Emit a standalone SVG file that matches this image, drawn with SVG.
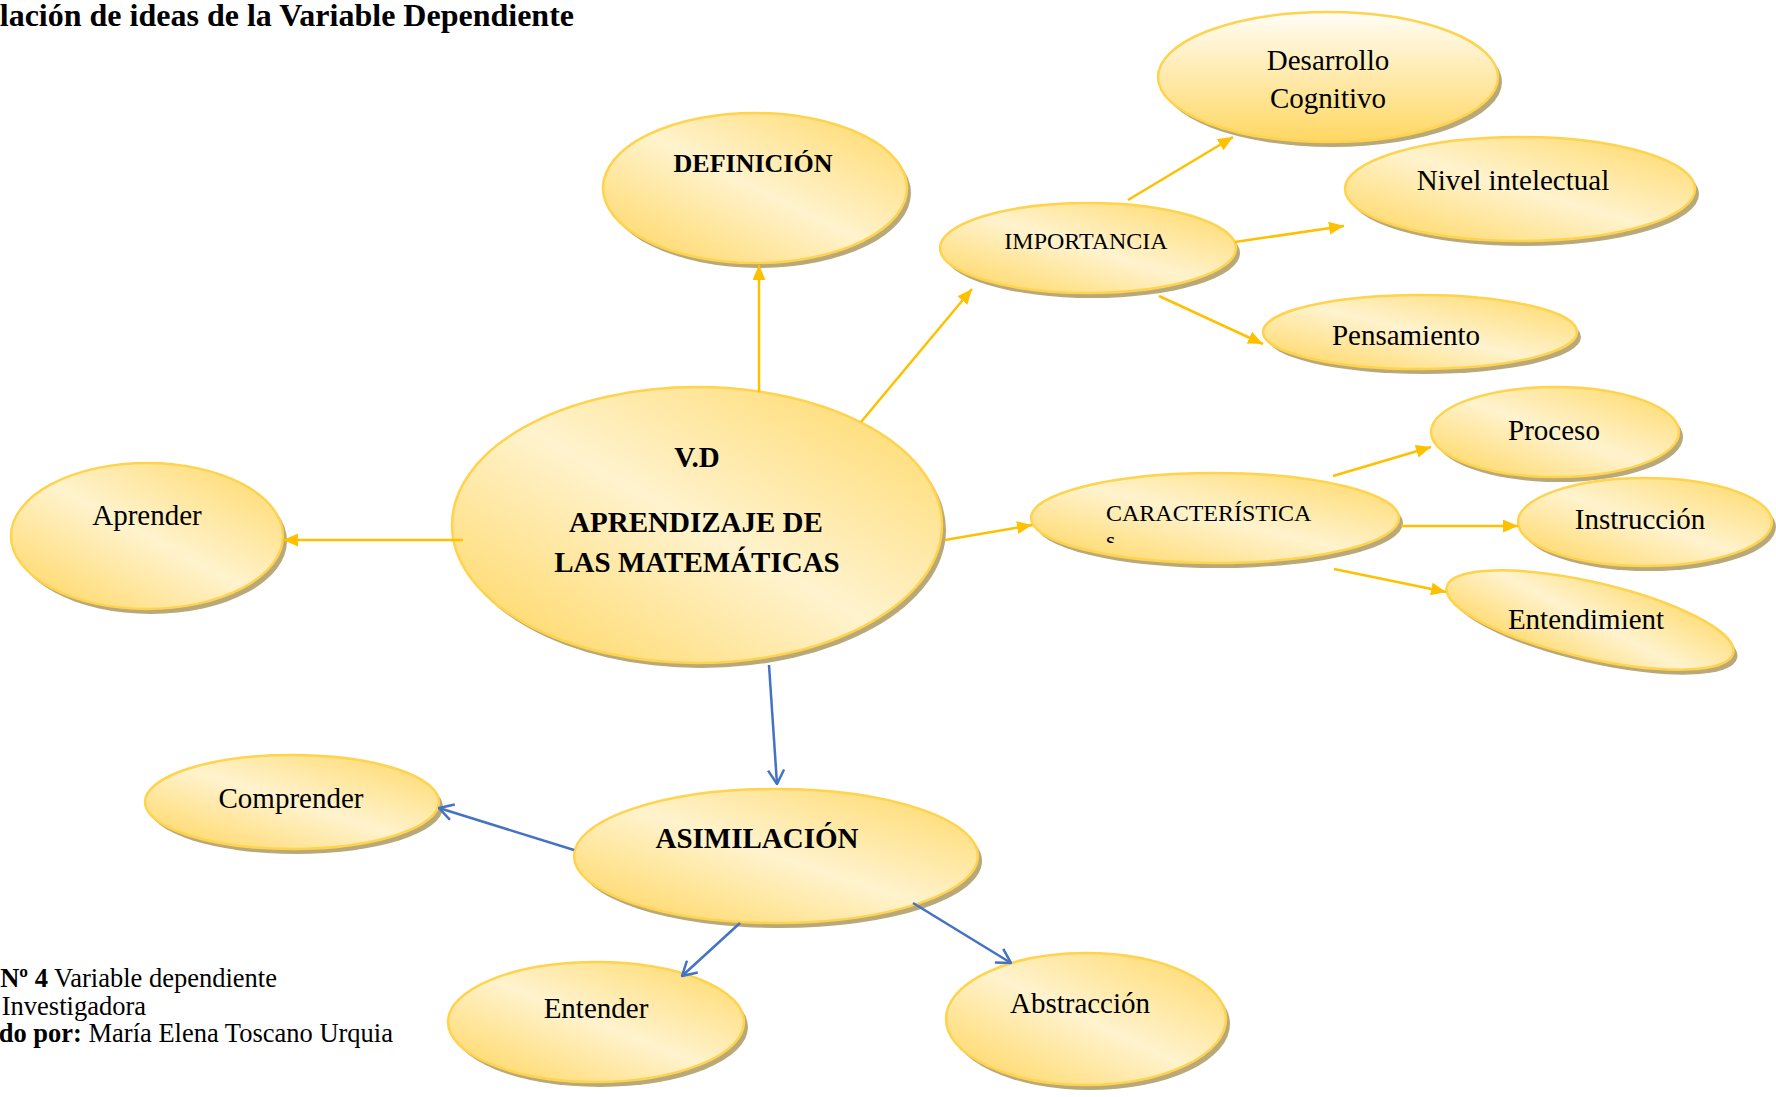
<svg xmlns="http://www.w3.org/2000/svg" width="1776" height="1097" viewBox="0 0 1776 1097">
<style>
.sh{fill:#B9A878}
.nd{fill:url(#gd);stroke:#FFD34D;stroke-width:2.5}
.nv{fill:url(#gv);stroke:#FFD34D;stroke-width:2.5}
.t{font-family:"Liberation Serif","Times New Roman",serif;font-size:29px;fill:#000;text-anchor:middle}
.b{font-weight:bold}
.s24{font-size:24px}
.ya{fill:none;stroke:#FFC000;stroke-width:2.5}
.bl{fill:none;stroke:#4472C4;stroke-width:2.5}
.cap{font-family:"Liberation Serif","Times New Roman",serif;font-size:26.5px;fill:#000;text-anchor:end}
</style>
<defs>
<linearGradient id="gd" x1="1" y1="0" x2="0" y2="1">
<stop offset="0" stop-color="#FFD762"/>
<stop offset="0.5" stop-color="#FFF3CE"/>
<stop offset="1" stop-color="#FFD458"/>
</linearGradient>
<linearGradient id="gv" x1="0" y1="0" x2="0" y2="1">
<stop offset="0" stop-color="#FFFDF6"/>
<stop offset="1" stop-color="#FFD762"/>
</linearGradient>
<marker id="ma" viewBox="0 0 15 13" refX="15" refY="6.5" markerWidth="15" markerHeight="13" markerUnits="userSpaceOnUse" orient="auto">
<path d="M0,0 L15,6.5 L0,13 z" fill="#FFC000"/>
</marker>
<marker id="mb" viewBox="0 0 16 18" refX="15" refY="9" markerWidth="16" markerHeight="18" markerUnits="userSpaceOnUse" orient="auto">
<path d="M1,1 L15,9 L1,17" fill="none" stroke="#4472C4" stroke-width="2.5"/>
</marker>
<clipPath id="clipS"><rect x="1090" y="520" width="60" height="23"/></clipPath>
</defs>
<rect width="1776" height="1097" fill="#fff"/>
<text x="574" y="26" class="t b" style="font-size:32px;text-anchor:end">lación de ideas de la Variable Dependiente</text>

<g id="n-desarrollo">
<ellipse class="sh" cx="1332" cy="82" rx="170" ry="65"/>
<ellipse class="nv" cx="1328" cy="77" rx="170" ry="65"/>
<text class="t" x="1328" y="70">Desarrollo</text>
<text class="t" x="1328" y="108">Cognitivo</text>
</g>
<g id="n-nivel">
<ellipse class="sh" cx="1524" cy="194" rx="175" ry="52"/>
<ellipse class="nd" cx="1520" cy="189" rx="175" ry="52"/>
<text class="t" x="1513" y="190">Nivel intelectual</text>
</g>
<g id="n-pensamiento">
<ellipse class="sh" cx="1424" cy="337" rx="157" ry="37"/>
<ellipse class="nd" cx="1420" cy="332" rx="157" ry="37"/>
<text class="t" x="1406" y="345">Pensamiento</text>
</g>
<g id="n-importancia">
<ellipse class="sh" cx="1092" cy="253" rx="148" ry="45"/>
<ellipse class="nd" cx="1088" cy="248" rx="148" ry="45"/>
<text class="t s24" x="1086" y="249">IMPORTANCIA</text>
</g>
<g id="n-definicion">
<ellipse class="sh" cx="759" cy="193" rx="152" ry="75"/>
<ellipse class="nd" cx="755" cy="188" rx="152" ry="75"/>
<text class="t b" style="font-size:26px" x="753" y="172">DEFINICIÓN</text>
</g>
<g id="n-vd">
<ellipse class="sh" cx="701" cy="530" rx="245" ry="138"/>
<ellipse class="nd" cx="697" cy="525" rx="245" ry="138"/>
<text class="t b" x="697" y="467">V.D</text>
<text class="t b" x="696" y="532">APRENDIZAJE DE</text>
<text class="t b" x="697" y="572">LAS MATEMÁTICAS</text>
</g>
<g id="n-caracteristicas">
<ellipse class="sh" cx="1219" cy="523" rx="184" ry="45"/>
<ellipse class="nd" cx="1215" cy="518" rx="184" ry="45"/>
<text class="t s24" style="text-anchor:start" x="1106" y="521">CARACTERÍSTICA</text>
<text class="t s24" style="text-anchor:start" x="1106" y="548" clip-path="url(#clipS)">s</text>
</g>
<g id="n-proceso">
<ellipse class="sh" cx="1559" cy="437" rx="124" ry="45"/>
<ellipse class="nd" cx="1555" cy="432" rx="124" ry="45"/>
<text class="t" x="1554" y="440">Proceso</text>
</g>
<g id="n-instruccion">
<ellipse class="sh" cx="1649" cy="527" rx="127" ry="44"/>
<ellipse class="nd" cx="1645" cy="522" rx="127" ry="44"/>
<text class="t" x="1640" y="529">Instrucción</text>
</g>
<g id="n-entendimiento">
<ellipse class="sh" cx="1594" cy="625" rx="147" ry="38" transform="rotate(13 1594 625)"/>
<ellipse class="nd" cx="1590" cy="620" rx="147" ry="38" transform="rotate(13 1590 620)"/>
<text class="t" x="1586" y="629">Entendimient</text>
</g>
<g id="n-aprender">
<ellipse class="sh" cx="151" cy="541" rx="136" ry="73"/>
<ellipse class="nd" cx="147" cy="536" rx="136" ry="73"/>
<text class="t" x="147" y="525">Aprender</text>
</g>
<g id="n-comprender">
<ellipse class="sh" cx="296" cy="807" rx="147" ry="47"/>
<ellipse class="nd" cx="292" cy="802" rx="147" ry="47"/>
<text class="t" x="291" y="808">Comprender</text>
</g>
<g id="n-asimilacion">
<ellipse class="sh" cx="780" cy="861" rx="202" ry="67"/>
<ellipse class="nd" cx="776" cy="856" rx="202" ry="67"/>
<text class="t b" x="757" y="848">ASIMILACIÓN</text>
</g>
<g id="n-entender">
<ellipse class="sh" cx="600" cy="1027" rx="148" ry="60"/>
<ellipse class="nd" cx="596" cy="1022" rx="148" ry="60"/>
<text class="t" x="596" y="1018">Entender</text>
</g>
<g id="n-abstraccion">
<ellipse class="sh" cx="1090" cy="1024" rx="140" ry="66"/>
<ellipse class="nd" cx="1086" cy="1019" rx="140" ry="66"/>
<text class="t" x="1080" y="1013">Abstracción</text>
</g>

<g id="connectors">
<line class="ya" x1="759" y1="392" x2="759" y2="265" marker-end="url(#ma)"/>
<line class="ya" x1="861" y1="422" x2="972" y2="289" marker-end="url(#ma)"/>
<line class="ya" x1="1128" y1="200" x2="1233" y2="137" marker-end="url(#ma)"/>
<line class="ya" x1="1235" y1="242" x2="1344" y2="226" marker-end="url(#ma)"/>
<line class="ya" x1="1159" y1="296" x2="1263" y2="344" marker-end="url(#ma)"/>
<line class="ya" x1="945" y1="540" x2="1032" y2="525" marker-end="url(#ma)"/>
<line class="ya" x1="1333" y1="476" x2="1431" y2="447" marker-end="url(#ma)"/>
<line class="ya" x1="1401" y1="526" x2="1518" y2="526" marker-end="url(#ma)"/>
<line class="ya" x1="1334" y1="569" x2="1446" y2="592" marker-end="url(#ma)"/>
<line class="ya" x1="463" y1="540" x2="283" y2="540" marker-end="url(#ma)"/>
<line class="bl" x1="769" y1="665" x2="777" y2="784" marker-end="url(#mb)"/>
<line class="bl" x1="574" y1="850" x2="439" y2="808" marker-end="url(#mb)"/>
<line class="bl" x1="740" y1="923" x2="682" y2="976" marker-end="url(#mb)"/>
<line class="bl" x1="913" y1="903" x2="1011" y2="963" marker-end="url(#mb)"/>
</g>

<g id="caption">
<text class="cap" x="277" y="987"><tspan font-weight="bold">Nº 4</tspan> Variable dependiente</text>
<text class="cap" x="146" y="1015">Investigadora</text>
<text class="cap" x="393" y="1042"><tspan font-weight="bold">do por:</tspan> María Elena Toscano Urquia</text>
</g>
</svg>
